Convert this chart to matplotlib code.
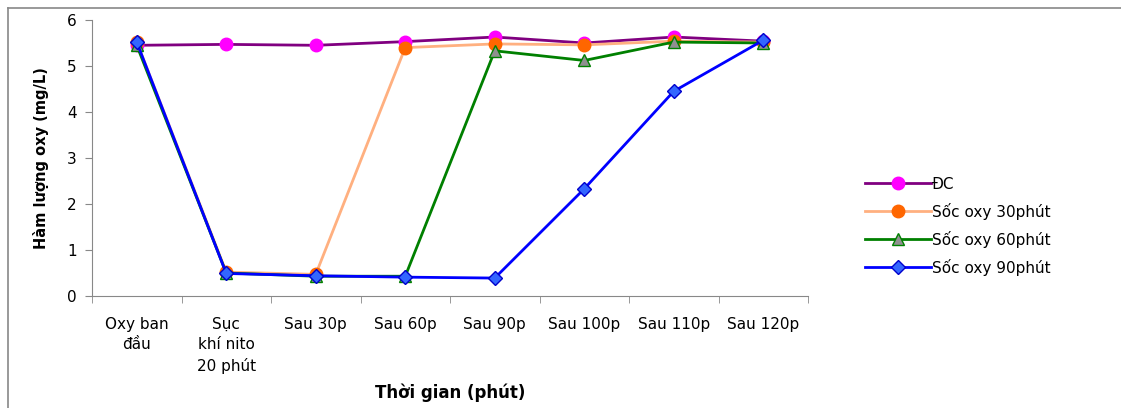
import matplotlib.pyplot as plt
from matplotlib.lines import Line2D

# Data
categories = ['Oxy ban\nđầu', 'Sục\nkhí nito\n20 phút', 'Sau 30p', 'Sau 60p',
              'Sau 90p', 'Sau 100p', 'Sau 110p', 'Sau 120p']
dc = [5.45, 5.47, 5.45, 5.53, 5.63, 5.5, 5.63, 5.54]
soc30 = [5.52, 0.52, 0.47, 5.4, 5.48, 5.46, 5.54, 5.52]
soc60 = [5.45, 0.5, 0.43, 0.43, 5.33, 5.12, 5.52, 5.5]
soc90 = [5.52, 0.49, 0.44, 0.41, 0.39, 2.33, 4.45, 5.56]

plt.rcParams['font.family'] = ['DejaVu Sans']

fig = plt.figure(figsize=(11.21, 4.08), dpi=100)
ax = fig.add_axes([92 / 1121, 1 - 296 / 408, 716 / 1121, 276 / 408])

x = list(range(len(categories)))
ax.plot(x, dc, color='#800080', lw=2, marker='o', ms=9,
        mfc='#FF00FF', mec='#FF00FF', label='ĐC')
ax.plot(x, soc30, color='#FFB080', lw=2, marker='o', ms=9,
        mfc='#FF6600', mec='#FF6600', label='Sốc oxy 30phút')
ax.plot(x, soc60, color='#008000', lw=2, marker='^', ms=9,
        mfc='#909090', mec='#008000', label='Sốc oxy 60phút')
ax.plot(x, soc90, color='#0000FF', lw=2, marker='D', ms=7,
        mfc='#3366FF', mec='#0000CC', label='Sốc oxy 90phút')

ax.set_xlim(-0.5, len(categories) - 0.5)
ax.set_ylim(0, 6)
ax.set_yticks(range(0, 7))
ax.set_xticks(x)
ax.set_xticklabels(categories, fontsize=11, linespacing=1.45)
ax.set_xticks([i - 0.5 for i in range(len(categories) + 1)], minor=True)
ax.tick_params(axis='x', which='major', length=0, pad=15)
ax.tick_params(axis='x', which='minor', length=5, color='#888888')
ax.tick_params(axis='y', length=5, color='#888888', labelsize=11, pad=6)

for s in ['top', 'right']:
    ax.spines[s].set_visible(False)
for s in ['left', 'bottom']:
    ax.spines[s].set_color('#888888')

ax.set_ylabel('Hàm lượng oxy (mg/L)', fontsize=10.5, fontweight='bold', labelpad=13)
ax.set_xlabel('Thời gian (phút)', fontsize=12, fontweight='bold', labelpad=7)

ax.legend(loc='upper left', bbox_to_anchor=(1.071, 0.455), frameon=False,
          fontsize=11, handlelength=4.3, labelspacing=0.72, handletextpad=0.1,
          borderaxespad=0)

# outer frame lines
fig.add_artist(Line2D([8 / 1121, 8 / 1121], [0, 1 - 8 / 408],
                      color='#888888', lw=1.2))
fig.add_artist(Line2D([8 / 1121, 1], [1 - 8 / 408, 1 - 8 / 408],
                      color='#888888', lw=1.2))

fig.savefig('out.png', dpi=100)
